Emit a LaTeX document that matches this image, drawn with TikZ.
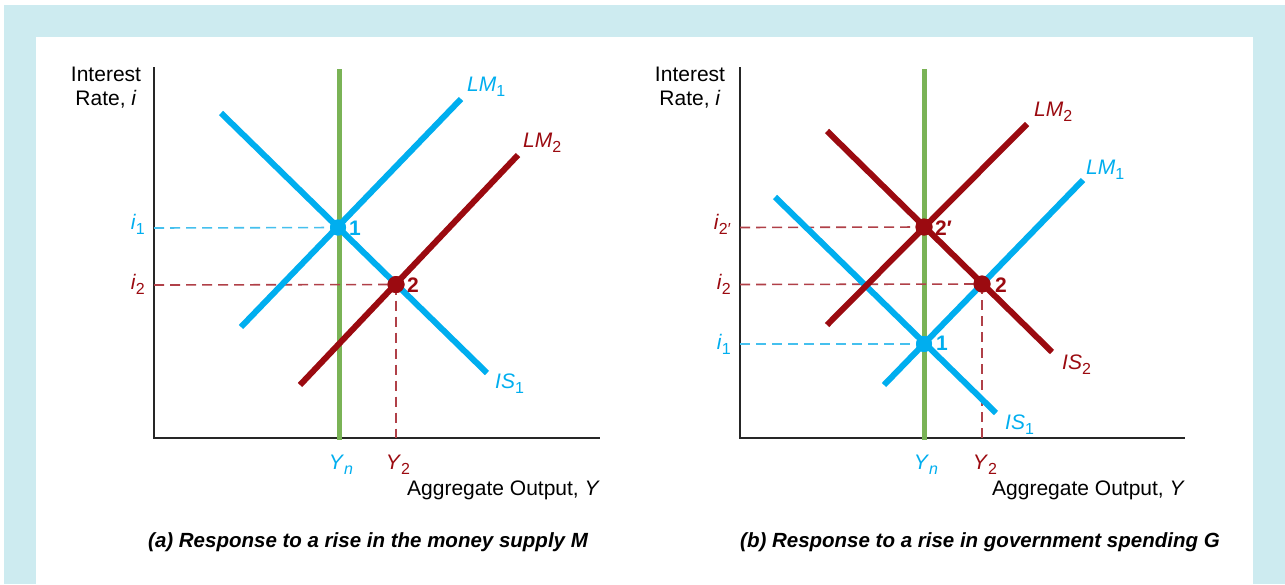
\documentclass[tikz,border=0pt]{standalone}
\usepackage{fontspec}
\setmainfont{Liberation Sans}
\definecolor{bgblue}{HTML}{CDEBF0}
\definecolor{cyanl}{HTML}{00AEEF}
\definecolor{darkred}{HTML}{9B0A10}
\definecolor{greenl}{HTML}{7AB356}
\definecolor{dashblue}{HTML}{45C0EE}
\definecolor{dashred}{HTML}{B04048}
\newcommand\sbs[1]{\raisebox{-0.25em}{\fontsize{16}{16}\selectfont #1}}
\tikzset{
  axisline/.style={line width=1.4pt, black!85},
  curveblue/.style={line width=6pt, cyanl},
  curvered/.style={line width=6pt, darkred},
  natline/.style={line width=5pt, greenl},
  dashb/.style={line width=1.6pt, dashblue, dash pattern=on 10pt off 6pt},
  dashr/.style={line width=1.6pt, dashred, dash pattern=on 10pt off 6pt},
  lbl/.style={inner sep=0pt, font=\fontsize{21}{24}\selectfont},
  ptlbl/.style={inner sep=0pt, font=\fontsize{21}{24}\selectfont\bfseries},
  dotb/.style={circle, fill=cyanl, inner sep=0pt, minimum size=16pt},
  dotr/.style={circle, fill=darkred, inner sep=0pt, minimum size=17pt},
  captext/.style={inner sep=0pt, font=\fontsize{20.5}{24}\selectfont\bfseries\itshape},
}
\begin{document}
\begin{tikzpicture}[x=1pt, y=-1pt]
\useasboundingbox (0,0) rectangle (1285,584);
\fill[white] (0,0) rectangle (1285,584);
\fill[bgblue] (4,5) rectangle (1285,584);
\fill[white] (36,37) rectangle (1253,584);

% ---------------- Panel (a) ----------------
\draw[axisline] (154,67) -- (154,438) -- (600,438);
\draw[natline] (339,69) -- (339,440);
\coordinate (aYa) at (154,228);
\coordinate (aYb) at (154,285);
\coordinate (aXb) at (396,438);
\node[dotb] (a1) at (338,227.5) {};
\node[dotr] (a2) at (396,284.5) {};
\draw[dashb] (aYa) -- (a1.center);
\draw[dashr] (aYb) -- (a2.center);
\draw[dashr] (a2.center) -- (aXb);
\draw[curveblue] (221,113) -- (487,373);
\draw[curveblue] (241,327) -- (461,99);
\draw[curvered] (300,385) -- (518,155);
\node[dotb] (a1b) at (338,227.5) {};
\node[dotr] (a2b) at (396,284.5) {};
\node[lbl, align=center, anchor=north] (aIR) at (106,67) {Interest\\Rate, \textit{i}};
\node[lbl, anchor=base east, cyanl] (ai1) at (145,229) {\textit{i}\sbs{1}};
\node[lbl, anchor=base east, darkred] (ai2) at (145,289) {\textit{i}\sbs{2}};
\node[ptlbl, anchor=west, cyanl] (al1) at (349,228) {1};
\node[ptlbl, anchor=west, darkred] (al2) at (407,285) {2};
\node[lbl, anchor=base west, cyanl] (aLM1) at (467,91) {\textit{LM}\sbs{1}};
\node[lbl, anchor=base west, darkred] (aLM2) at (523,147) {\textit{LM}\sbs{2}};
\node[lbl, anchor=base west, cyanl] (aIS1) at (495,388) {\textit{IS}\sbs{1}};
\node[lbl, anchor=base, cyanl] (aYn) at (341,469) {\textit{Y}\sbs{\textit{n}}};
\node[lbl, anchor=base, darkred] (aY2) at (398,469) {\textit{Y}\sbs{2}};
\node[lbl, anchor=base west] (aAO) at (407,495) {Aggregate Output,\ \textit{Y}};
\node[captext, anchor=base west] (acap) at (148,547) {(a) Response to a rise in the money supply M};

% ---------------- Panel (b) ----------------
\draw[axisline] (740,67) -- (740,438) -- (1185,438);
\draw[natline] (924,69) -- (924,440);
\coordinate (bYa) at (740,227.5);
\coordinate (bYb) at (740,284.5);
\coordinate (bYc) at (740,344);
\coordinate (bXb) at (982,438);
\node[dotr] (b2p) at (924,227) {};
\node[dotr] (b2) at (982,284) {};
\node[dotb] (b1) at (924,344) {};
\draw[dashr] (bYa) -- (b2p.center);
\draw[dashr] (bYb) -- (b2.center);
\draw[dashb] (bYc) -- (b1.center);
\draw[dashr] (b2.center) -- (bXb);
\draw[curveblue] (775,197) -- (996,413);
\draw[curveblue] (884,385) -- (1083,180);
\draw[curvered] (827,325) -- (1027,124);
\draw[curvered] (827,131) -- (1052,352);
\node[dotr] (b2pb) at (924,227) {};
\node[dotr] (b2b) at (982,284) {};
\node[dotb] (b1b) at (924,344) {};
\node[lbl, align=center, anchor=north] (bIR) at (690,67) {Interest\\Rate, \textit{i}};
\node[lbl, anchor=base east, darkred] (bi2p) at (731,229) {\textit{i}\sbs{2\char"2032}};
\node[lbl, anchor=base east, darkred] (bi2) at (731,289) {\textit{i}\sbs{2}};
\node[lbl, anchor=base east, cyanl] (bi1) at (731,349) {\textit{i}\sbs{1}};
\node[ptlbl, anchor=west, darkred] (bl2p) at (935,228) {2\char"2032};
\node[ptlbl, anchor=west, darkred] (bl2) at (995,285) {2};
\node[ptlbl, anchor=west, cyanl] (bl1) at (936,343) {1};
\node[lbl, anchor=base west, darkred] (bLM2) at (1034,116) {\textit{LM}\sbs{2}};
\node[lbl, anchor=base west, cyanl] (bLM1) at (1086,174) {\textit{LM}\sbs{1}};
\node[lbl, anchor=base west, darkred] (bIS2) at (1062,369) {\textit{IS}\sbs{2}};
\node[lbl, anchor=base west, cyanl] (bIS1) at (1005,429) {\textit{IS}\sbs{1}};
\node[lbl, anchor=base, cyanl] (bYn) at (926,469) {\textit{Y}\sbs{\textit{n}}};
\node[lbl, anchor=base, darkred] (bY2) at (985,469) {\textit{Y}\sbs{2}};
\node[lbl, anchor=base west] (bAO) at (992,495) {Aggregate Output,\ \textit{Y}};
\node[captext, anchor=base west] (bcap) at (740,547) {(b) Response to a rise in government spending G};
\end{tikzpicture}
\end{document}
